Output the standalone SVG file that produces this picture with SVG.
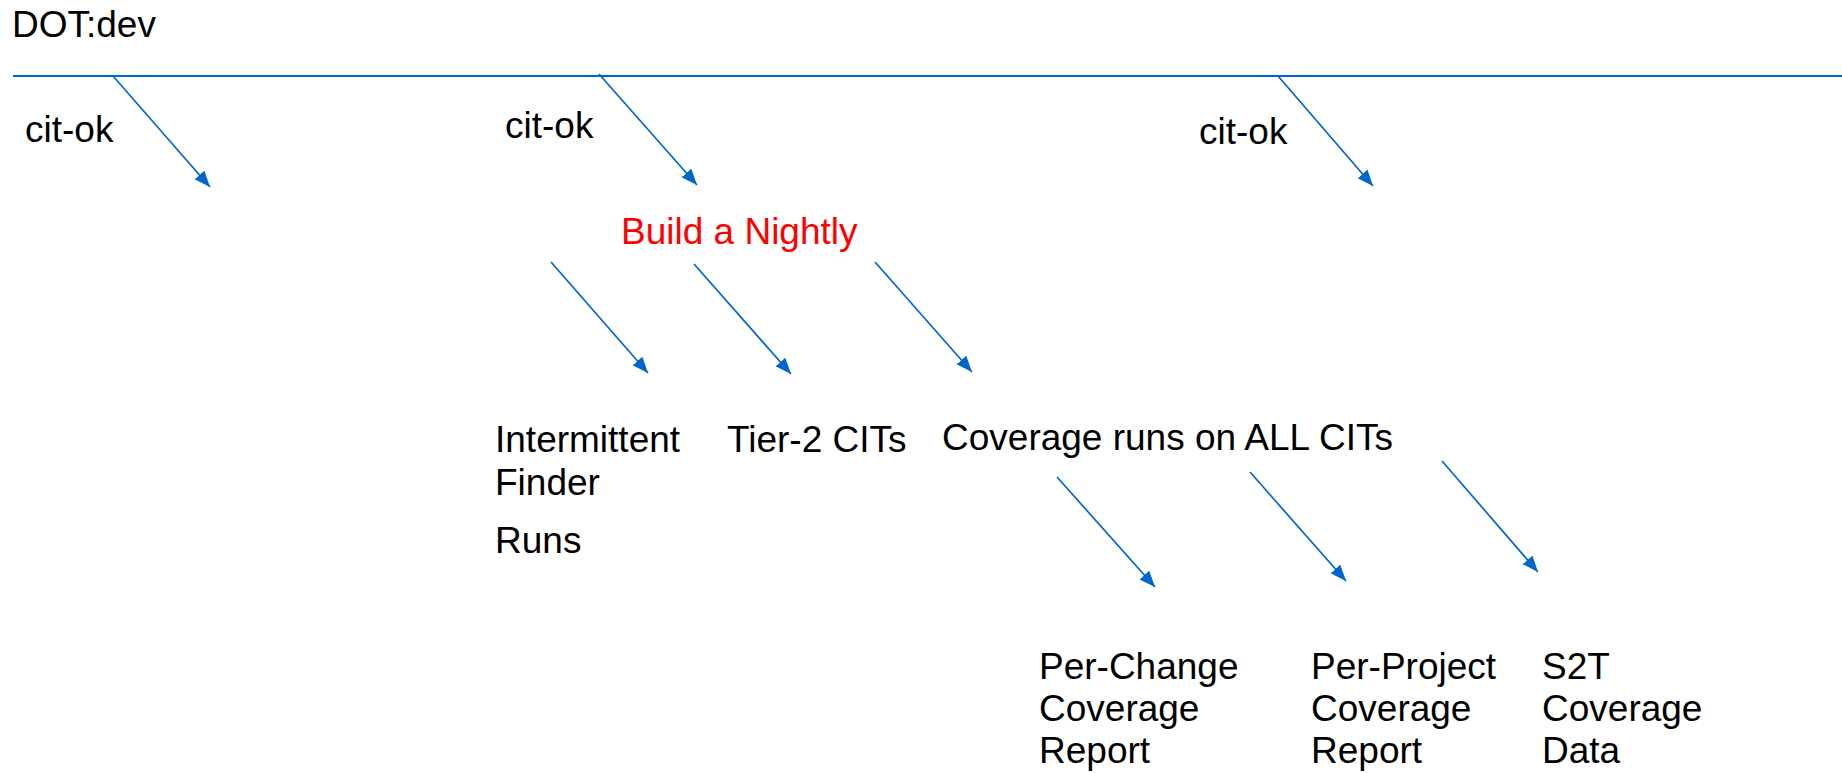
<svg xmlns="http://www.w3.org/2000/svg" width="1842" height="773" viewBox="0 0 1842 773">
  <style>
    text { font-family: "Liberation Sans", Arial, sans-serif; font-size: 37px; fill: #000000; }
    .hot { fill: #FF0000; }
    .edge { stroke: #0066CC; stroke-width: 1.7; fill: none; marker-end: url(#head); }
    .rail { stroke: #0066CC; stroke-width: 2.2; fill: none; }
  </style>
  <defs>
    <marker id="head" markerUnits="userSpaceOnUse" markerWidth="18" markerHeight="16" refX="16" refY="6.5" orient="auto">
      <path d="M0,0 L16,6.5 L0,13 z" fill="#0066CC"/>
    </marker>
  </defs>

  <rect width="1842" height="773" fill="#FFFFFF"/>

  <!-- branch rail -->
  <g id="branch">
    <text x="12" y="37">DOT:dev</text>
    <line class="rail" x1="13" y1="76" x2="1842" y2="76"/>
  </g>

  <g id="citok-1"><text x="25" y="142">cit-ok</text></g>
  <g id="citok-2"><text x="505" y="138">cit-ok</text></g>
  <g id="citok-3"><text x="1199" y="144">cit-ok</text></g>

  <g id="nightly"><text class="hot" x="621" y="244">Build a Nightly</text></g>

  <g id="intermittent">
    <text x="495" y="452">Intermittent</text>
    <text x="495" y="495">Finder</text>
    <text x="495" y="553">Runs</text>
  </g>
  <g id="tier2"><text x="727" y="452">Tier-2 CITs</text></g>
  <g id="coverage"><text x="942" y="450">Coverage runs on ALL CITs</text></g>

  <g id="per-change">
    <text x="1039" y="679">Per-Change</text>
    <text x="1039" y="721">Coverage</text>
    <text x="1039" y="763">Report</text>
  </g>
  <g id="per-project">
    <text x="1311" y="679">Per-Project</text>
    <text x="1311" y="721">Coverage</text>
    <text x="1311" y="763">Report</text>
  </g>
  <g id="s2t">
    <text x="1542" y="679">S2T</text>
    <text x="1542" y="721">Coverage</text>
    <text x="1542" y="763">Data</text>
  </g>

  <!-- connectors -->
  <g id="connectors">
    <line class="edge" x1="113" y1="76" x2="210" y2="187"/>
    <line class="edge" x1="599" y1="74" x2="697" y2="185"/>
    <line class="edge" x1="1278" y1="76" x2="1373" y2="186"/>

    <line class="edge" x1="551" y1="262" x2="648" y2="373"/>
    <line class="edge" x1="694" y1="264" x2="791" y2="374"/>
    <line class="edge" x1="875" y1="262" x2="972" y2="372"/>

    <line class="edge" x1="1057" y1="477" x2="1155" y2="587"/>
    <line class="edge" x1="1250" y1="472" x2="1346" y2="581"/>
    <line class="edge" x1="1442" y1="461" x2="1538" y2="572"/>
  </g>
</svg>
